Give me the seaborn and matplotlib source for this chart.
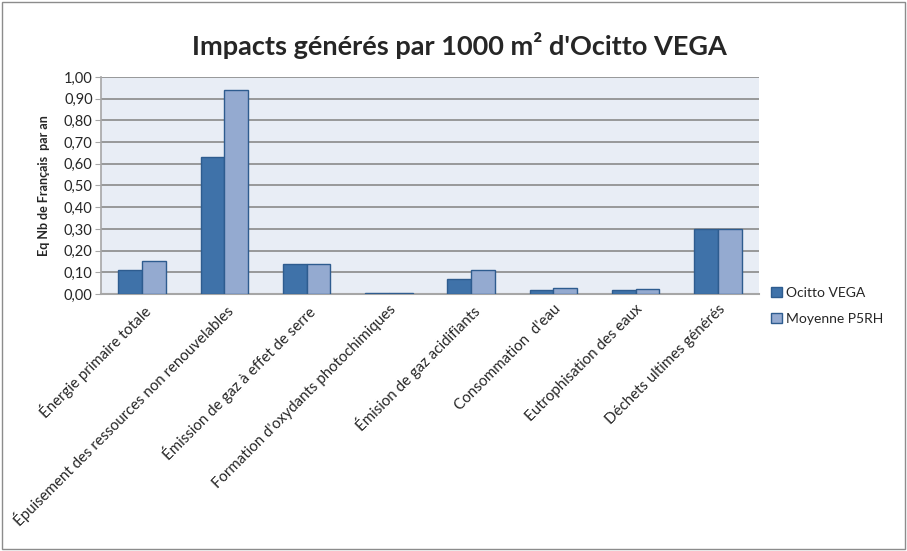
import pandas as pd
import matplotlib
matplotlib.use("Agg")
import matplotlib.pyplot as plt
import seaborn as sns
from matplotlib.ticker import FuncFormatter, MultipleLocator
from matplotlib.patches import Rectangle

categories = ["Énergie primaire totale",
              "Épuisement des ressources non renouvelables",
              "Émission de gaz à effet de serre",
              "Formation d'oxydants photochimiques",
              "Émision de gaz acidifiants",
              "Consommation  d'eau",
              "Eutrophisation des eaux",
              "Déchets ultimes générés"]
ocitto = [0.11, 0.63, 0.14, 0.005, 0.07, 0.018, 0.018, 0.30]
moyenne = [0.15, 0.94, 0.14, 0.005, 0.11, 0.029, 0.024, 0.30]
series = ["Ocitto VEGA", "Moyenne P5RH"]

df = pd.DataFrame({
    "cat": categories * 2,
    "val": ocitto + moyenne,
    "serie": [series[0]] * len(categories) + [series[1]] * len(categories),
})

sns.set_style("white")
plt.rcParams["font.family"] = ["Lato", "DejaVu Sans"]

fig = plt.figure(figsize=(9.07, 5.51), dpi=100)
ax = fig.add_axes([0.1114, 0.4664, 0.7254, 0.3939])

sns.barplot(data=df, x="cat", y="val", hue="serie", order=categories,
            hue_order=series, palette=["#3F72A9", "#94AAD0"], width=0.58,
            edgecolor="#2E5C8F", linewidth=1.0, saturation=1, ax=ax, zorder=3)

ax.set_facecolor("#E8EDF5")
ax.set_ylim(0, 1.0)
ax.set_xlim(-0.5, len(categories) - 0.5)
ax.yaxis.set_major_locator(MultipleLocator(0.1))
ax.yaxis.set_major_formatter(FuncFormatter(lambda v, p: f"{v:.2f}".replace(".", ",")))
ax.grid(axis="y", color="#8A8A8A", linewidth=1.2, zorder=0)
ax.set_axisbelow(True)
for s in ["top", "right"]:
    ax.spines[s].set_visible(False)
ax.spines["left"].set_color("#A6A6A6")
ax.spines["bottom"].set_color("#A6A6A6")
ax.spines["left"].set_linewidth(1.2)
ax.spines["bottom"].set_linewidth(1.5)
ax.tick_params(axis="y", length=4, color="#A6A6A6", labelsize=10.5, pad=2, left=True)
ax.tick_params(axis="x", length=0, labelsize=10.8, pad=6)
plt.setp(ax.get_xticklabels(), rotation=45, ha="right", rotation_mode="anchor")
ax.set_xlabel("")
ax.set_ylabel("Eq Nb de Français  par an", fontsize=9, fontweight="bold", labelpad=10)

fig.suptitle("Impacts générés par 1000 m² d'Ocitto VEGA", x=0.507, y=0.942,
             fontsize=19.5, fontweight="bold")

ax.legend(loc="upper left", bbox_to_anchor=(1.01, 0.06), frameon=False,
          fontsize=10, handlelength=0.8, handleheight=0.8, handletextpad=0.3,
          labelspacing=1.0, borderaxespad=0)

fig.patches.append(Rectangle((0.002, 0.003), 0.996, 0.994, transform=fig.transFigure,
                             fill=False, edgecolor="#8C8C8C", linewidth=1))

fig.savefig("out.png", dpi=100)
